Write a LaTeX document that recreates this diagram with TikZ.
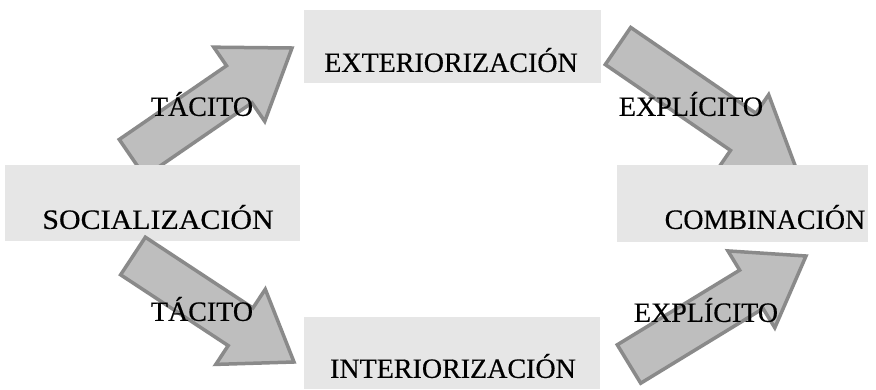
\documentclass[tikz,border=0pt]{standalone}
\usepackage{fontspec}
\setmainfont{Liberation Serif}
\newfontfamily\lblfont[FakeBold=0.4]{Liberation Serif}
\newfontfamily\widelblfont[FakeStretch=1.07,FakeBold=0.4]{Liberation Serif}
\usetikzlibrary{calc}
\definecolor{boxgray}{HTML}{E6E6E6}
\definecolor{arrfill}{HTML}{BEBEBE}
\definecolor{arrline}{HTML}{8A8A8A}
\newcommand\blockarr[2]{%
  \coordinate (h) at ($(#2)!64pt!(#1)$);
  \draw[barrow] ($(#1)!22.5pt!90:(#2)$) -- ($(h)!22.5pt!90:(#2)$) -- ($(h)!45pt!90:(#2)$)
    -- (#2) -- ($(h)!45pt!-90:(#2)$) -- ($(h)!22.5pt!-90:(#2)$) -- ($(#1)!22.5pt!-90:(#2)$) -- cycle;}
\tikzset{
  stagebox/.style={fill=boxgray, draw=none, inner sep=0pt},
  barrow/.style={fill=arrfill, draw=arrline, line width=3.5pt, line join=miter},
  lbl/.style={font=\lblfont\fontsize{28}{30}\selectfont, text=black, inner sep=0pt},
  widelbl/.style={lbl, font=\widelblfont\fontsize{28}{30}\selectfont}
}
\begin{document}
\begin{tikzpicture}[x=1pt,y=-1pt]
\useasboundingbox (0,0) rectangle (876,389);
\fill[white] (0,0) rectangle (876,389);
% arrow end points
\coordinate (t1) at (132,158); \coordinate (p1) at (292,48);
\coordinate (t2) at (618,46);  \coordinate (p2) at (796,168);
\coordinate (t3) at (133,256); \coordinate (p3) at (294,362);
\coordinate (t4) at (629,364); \coordinate (p4) at (806,256);
% arrows behind the boxes
\blockarr{t1}{p1}
\blockarr{t2}{p2}
% boxes
\node[stagebox, minimum width=297pt, minimum height=73pt, anchor=north west] (ext) at (304,10) {};
\node[stagebox, minimum width=295pt, minimum height=76pt, anchor=north west] (soc) at (5,165) {};
\node[stagebox, minimum width=251pt, minimum height=77pt, anchor=north west] (comb) at (617,165) {};
\node[stagebox, minimum width=296pt, minimum height=72pt, anchor=north west] (int) at (304,317) {};
% arrows in front of the boxes
\blockarr{t3}{p3}
\blockarr{t4}{p4}
% texts
\node[lbl] (lext) at (451,60) {EXTERIORIZACIÓN};
\node[widelbl] (lsoc) at (158,217) {SOCIALIZACIÓN};
\node[lbl] (lcomb) at (765,217) {COMBINACIÓN};
\node[lbl] (lint) at (453,366) {INTERIORIZACIÓN};
\node[lbl] (tac1) at (202,104) {TÁCITO};
\node[lbl] (exp1) at (691,104) {EXPLÍCITO};
\node[lbl] (tac2) at (202,309) {TÁCITO};
\node[lbl] (exp2) at (706,310) {EXPLÍCITO};
\end{tikzpicture}
\end{document}
